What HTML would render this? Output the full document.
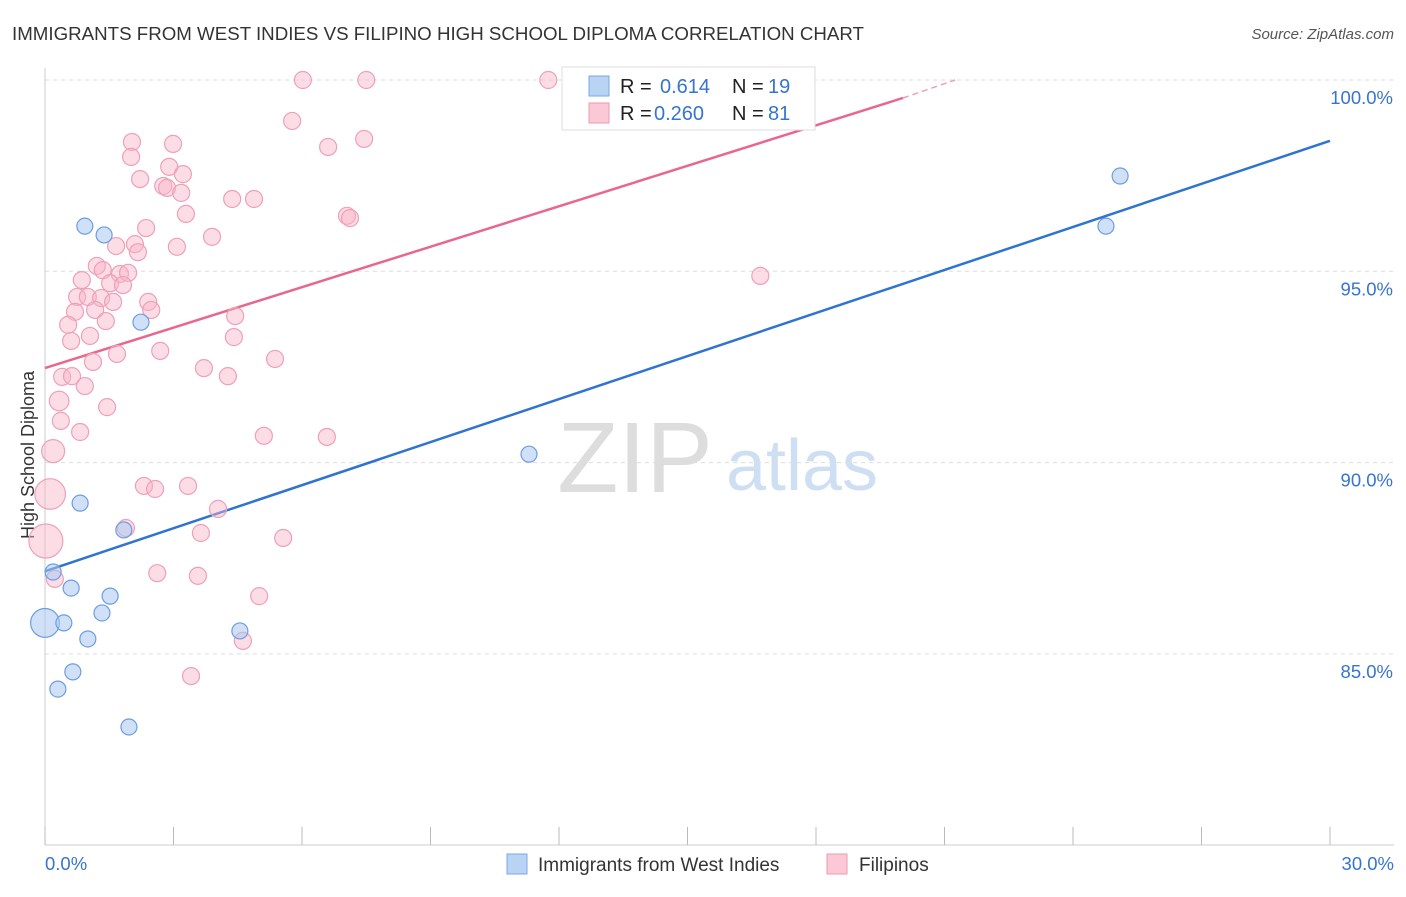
<!DOCTYPE html>
<html><head><meta charset="utf-8"><style>
body{margin:0;background:#fff;font-family:"Liberation Sans",sans-serif;}
svg text{font-family:"Liberation Sans",sans-serif;}
</style></head><body>
<svg id="chart" width="1406" height="892" xmlns="http://www.w3.org/2000/svg">
<text x="12" y="40" font-size="18" fill="#333" textLength="852" lengthAdjust="spacingAndGlyphs">IMMIGRANTS FROM WEST INDIES VS FILIPINO HIGH SCHOOL DIPLOMA CORRELATION CHART</text>
<text x="1394" y="39" font-size="15" fill="#555" font-style="italic" text-anchor="end">Source: ZipAtlas.com</text>
<text x="34" y="455" font-size="18" fill="#333" text-anchor="middle" transform="rotate(-90 34 455)">High School Diploma</text>
<g>
<text x="635" y="492" font-size="100" fill="#ddd" font-family="Liberation Serif" text-anchor="middle">ZIP</text>
<text x="802" y="490" font-size="72" fill="#cfdff3" text-anchor="middle">atlas</text>
</g>
<g id="grid"></g><g id="axes"></g><g id="lines"></g><g id="pts"></g>
<g>
<rect x="562" y="67" width="253" height="63" fill="#fff" stroke="#ddd"/>
<rect x="589" y="76" width="20" height="20" fill="#b9d3f5" stroke="#7aa7e6"/>
<text x="620" y="93" font-size="20" fill="#222">R = </text><text x="660" y="93" font-size="20" fill="#3674d0">0.614</text>
<text x="732" y="93" font-size="20" fill="#222">N = </text><text x="768" y="93" font-size="20" fill="#3674d0">19</text>
<rect x="589" y="103" width="20" height="20" fill="#fbc8d6" stroke="#ee9ab3"/>
<text x="620" y="120" font-size="20" fill="#222">R = </text><text x="654" y="120" font-size="20" fill="#3674d0">0.260</text>
<text x="732" y="120" font-size="20" fill="#222">N = </text><text x="768" y="120" font-size="20" fill="#3674d0">81</text>
</g>
<g>
<rect x="507" y="854" width="20" height="20" fill="#b9d3f5" stroke="#7aa7e6"/>
<text x="538" y="871" font-size="19" fill="#333">Immigrants from West Indies</text>
<rect x="827" y="854" width="20" height="20" fill="#fbc8d6" stroke="#ee9ab3"/>
<text x="859" y="871" font-size="19" fill="#333">Filipinos</text>
</g>
</svg>
<script>
const xTicks=[0,3,6,9,12,15,18,21,24,27,30];
const yTicks=[85,90,95,100];
const blueX=[0.93,1.38,2.24,0,0.19,0.44,0.61,0.65,0.30,0.82,1.00,1.33,1.52,1.84,1.96,4.55,11.30,25.10,24.77];
const blueY=[96.18,95.95,93.67,85.81,87.14,85.81,86.72,84.53,84.08,88.94,85.39,86.07,86.51,88.24,83.09,85.60,90.22,97.49,96.18];
const blueW=[1,1,1,1.8,1,1,1,1,1,1,1,1,1,1,1,1,1,1,1];
const pinkX=[6.02,7.50,11.75,5.77,2.03,2.99,7.45,6.61,2.01,2.90,3.22,2.22,2.76,2.85,3.18,4.37,4.88,7.05,7.12,3.29,2.36,3.90,1.66,2.10,3.08,2.17,1.21,1.35,1.75,1.94,0.86,1.52,1.82,0.75,1.00,1.31,1.59,2.41,1.17,2.48,0.70,1.42,4.44,0.54,1.05,4.41,0.61,1.68,2.69,1.12,5.37,3.71,0.40,0.63,4.27,0.93,0.33,1.45,0.37,0.82,5.11,6.58,0.19,0.12,2.31,2.57,3.34,4.04,1.89,3.64,5.56,0.02,0.23,2.62,3.57,5.00,4.62,3.41,16.70];
const pinkY=[100,100,100,98.93,98.38,98.33,98.46,98.25,97.99,97.73,97.54,97.41,97.23,97.18,97.05,96.89,96.89,96.45,96.39,96.50,96.13,95.90,95.66,95.71,95.64,95.50,95.14,95.03,94.93,94.96,94.77,94.69,94.64,94.33,94.33,94.30,94.20,94.20,93.99,93.99,93.94,93.70,93.83,93.60,93.31,93.28,93.18,92.84,92.92,92.63,92.71,92.47,92.24,92.26,92.26,92.00,91.61,91.45,91.09,90.80,90.70,90.67,90.30,89.18,89.39,89.31,89.39,88.79,88.29,88.16,88.03,87.95,86.96,87.11,87.04,86.51,85.34,84.42,94.88];
const pinkW=[];pinkX.forEach((v,i)=>pinkW.push(1));
pinkW[62]=1.35;pinkW[63]=1.8;pinkW[71]=2.0;pinkW[56]=1.15;
const blueLine=[87.16,98.41];
const pinkLine=[92.47,99.53,100];
const pinkLineX=[0,20.03,21.25];

const X0=45,X1=1330,Y100=80,PX5=191.3;
const sx=v=>X0+(v/30)*(X1-X0);
const sy=v=>Y100+(100-v)/5*PX5;
const NS="http://www.w3.org/2000/svg";
function mk(tag,attrs,parent){const e=document.createElementNS(NS,tag);for(const k in attrs)e.setAttribute(k,attrs[k]);document.getElementById(parent).appendChild(e);return e;}
yTicks.forEach(t=>{
  const l=mk('line',{x1:45,x2:1394,y1:sy(t),y2:sy(t),stroke:'#ddd','stroke-dasharray':'4,4'},'grid');
  
  
  const tx=mk('text',{x:1393,y:sy(t)+24,'font-size':18.5,fill:'#3674d0','text-anchor':'end'},'grid');
  tx.textContent=t.toFixed(1)+'%';
  
  
});
mk('line',{x1:45,x2:45,y1:68,y2:845,stroke:'#ccc'},'axes');
mk('line',{x1:45,x2:1394,y1:845,y2:845,stroke:'#ccc'},'axes');
xTicks.forEach(t=>{
  const l=mk('line',{x1:sx(t),x2:sx(t),y1:827,y2:845,stroke:'#bbb'},'axes');
  
  
});
[[0,45,'start'],[30,1394,'end']].forEach(([v,x,a])=>{
  const tx=mk('text',{x:x,y:870,'font-size':18.5,fill:'#3674d0','text-anchor':a},'axes');
  tx.textContent=v.toFixed(1)+'%';
  
  
});
const bl=mk('line',{x1:sx(0),y1:sy(blueLine[0]),x2:sx(30),y2:sy(blueLine[1]),stroke:'#2f74d0','stroke-width':2.5},'lines');


const pl=mk('line',{x1:sx(pinkLineX[0]),y1:sy(pinkLine[0]),x2:sx(pinkLineX[1]),y2:sy(pinkLine[1]),stroke:'#e8678f','stroke-width':2.5},'lines');


const pd=mk('line',{x1:sx(pinkLineX[1]),y1:sy(pinkLine[1]),x2:sx(pinkLineX[2]),y2:sy(pinkLine[2]),stroke:'#eea0b8','stroke-width':1.5,'stroke-dasharray':'6,4'},'lines');


pinkX.forEach((v,i)=>{
  const c=mk('circle',{cx:sx(v),cy:sy(pinkY[i]),r:8.5*pinkW[i],fill:'rgba(248,180,200,0.45)',stroke:'#eea0b8','stroke-width':1.2},'pts');
  
  
});
blueX.forEach((v,i)=>{
  const c=mk('circle',{cx:sx(v),cy:sy(blueY[i]),r:8*blueW[i],fill:'rgba(170,200,240,0.55)',stroke:'#6d9de0','stroke-width':1.2},'pts');
  
  
});
</script>
</body></html>
